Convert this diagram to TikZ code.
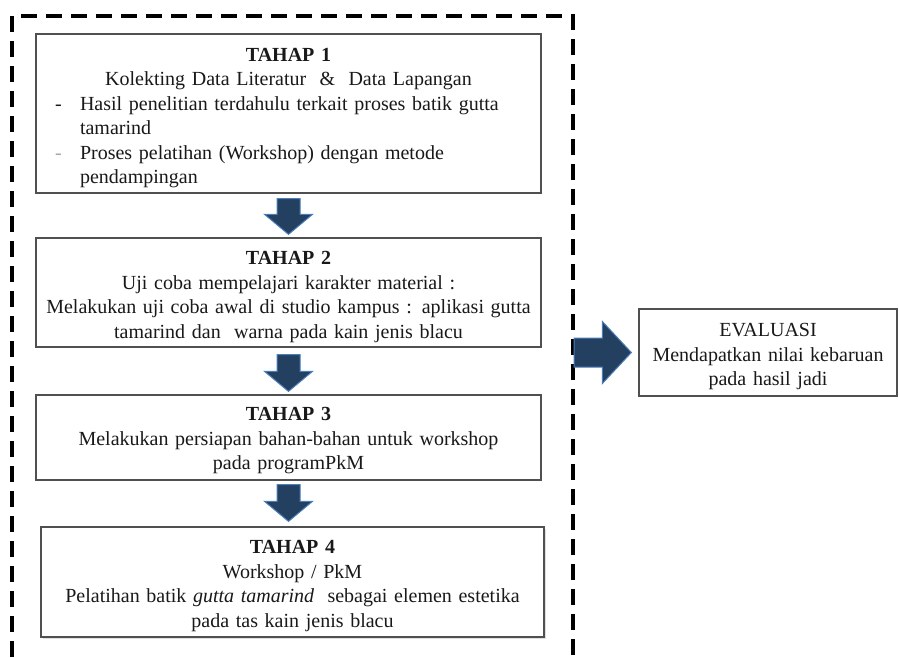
\documentclass[tikz,border=0pt]{standalone}
\usepackage{fontspec}
\setmainfont{Liberation Serif}
\usetikzlibrary{calc,shadows}
\definecolor{arrowfill}{RGB}{36,64,97}
\definecolor{arrowedge}{RGB}{74,126,187}
\definecolor{boxline}{RGB}{80,80,80}
\definecolor{ink}{RGB}{25,25,25}
\newcommand\bulline[2][ink]{\makebox[505pt][l]{\hspace*{19pt}\makebox[25pt][l]{\textcolor{#1}{-}}#2}}
\newcommand\contline[1]{\makebox[505pt][l]{\hspace*{44pt}#1}}
\newcommand\blockdown[2]{%
  \path[bluearrow] let \p1=(#1), \p2=(#2) in
    (\x1-11.5pt,\y1) -- (\x1+11.5pt,\y1) -- (\x1+11.5pt,\y2+20pt) -- (\x1+24pt,\y2+20pt)
    -- (\x1,\y2) -- (\x1-24pt,\y2+20pt) -- (\x1-11.5pt,\y2+20pt) -- cycle;}
\begin{document}
\begin{tikzpicture}[x=1pt,y=-1pt,
  stagebox/.style={draw=boxline, fill=white, line width=1.3pt, rectangle, inner sep=0pt},
  stagetext/.style={inner sep=0pt, align=center, text=ink,
    font=\rmfamily\fontsize{20}{24.5}\selectfont},
  bluearrow/.style={fill=arrowfill, draw=arrowedge, line width=1pt, line join=miter},
  framedash/.style={line width=3.2pt, dash pattern=on 16pt off 9pt}]
\path[fill=white,use as bounding box] (0,0) rectangle (899,657);

% outer dashed frame (runs off the bottom)
\draw[framedash] (12,657) -- (12,16) -- (573,16) -- (573,657);

% stage boxes
\node[stagebox, minimum width=505pt, minimum height=159pt] (b1) at (288.5,113.5) {};
\node[stagebox, minimum width=505pt, minimum height=109pt] (b2) at (288.5,292.5) {};
\node[stagebox, minimum width=505pt, minimum height=85pt] (b3) at (288.5,437.5) {};
\node[stagebox, minimum width=503pt, minimum height=110pt,
      drop shadow={shadow xshift=1.5pt, shadow yshift=-1.5pt, fill=black!25}] (b4) at (292.5,582) {};
\node[stagebox, minimum width=258pt, minimum height=87pt] (ev) at (768,352.5) {};

% texts
\node[stagetext, text width=505pt] (t1) at ($(b1.center)+(0,4.5)$)
 {\textbf{TAHAP 1}\\
  Kolekting Data Literatur\ \ \& \ Data Lapangan\\
  \bulline{Hasil penelitian terdahulu terkait proses batik gutta}\\
  \contline{tamarind}\\
  \bulline[black!35]{Proses pelatihan (Workshop) dengan metode}\\
  \contline{pendampingan}};

\node[stagetext, text width=505pt] (t2) at ($(b2.center)+(0,4.5)$)
 {\textbf{TAHAP 2}\\
  Uji coba mempelajari karakter material :\\
  Melakukan uji coba awal di studio kampus : aplikasi gutta\\
  tamarind dan \ warna pada kain jenis blacu};

\node[stagetext, text width=505pt] (t3) at ($(b3.center)+(0,3.5)$)
 {\textbf{TAHAP 3}\\
  Melakukan persiapan bahan-bahan untuk workshop\\
  pada programPkM};

\node[stagetext, text width=503pt] (t4) at ($(b4.center)+(0,4)$)
 {\textbf{TAHAP 4}\\
  Workshop / PkM\\
  Pelatihan batik \textit{gutta tamarind} \ sebagai elemen estetika\\
  pada tas kain jenis blacu};

\node[stagetext, text width=258pt] (tev) at ($(ev.center)+(0,4)$)
 {EVALUASI\\
  Mendapatkan nilai kebaruan\\
  pada hasil jadi};

% down arrows between stages
\blockdown{$(b1.south)+(0,5)$}{$(b2.north)+(0,-3)$}
\blockdown{$(b2.south)+(0,7)$}{$(b3.north)+(0,-3)$}
\blockdown{$(b3.south)+(0,4)$}{$(b4.north)+(0,-5)$}

% right arrow from frame to evaluation
\coordinate (frameR) at (574,352.5);
\path[bluearrow] let \p1=(frameR), \p2=($(ev.west)+(-7,0)$) in
  (\x1,\y1+14.5pt) -- (\x2-29pt,\y1+14.5pt) -- (\x2-29pt,\y1+31pt) -- (\x2,\y2)
  -- (\x2-29pt,\y1-31pt) -- (\x2-29pt,\y1-14.5pt) -- (\x1,\y1-14.5pt) -- cycle;
\end{tikzpicture}
\end{document}
